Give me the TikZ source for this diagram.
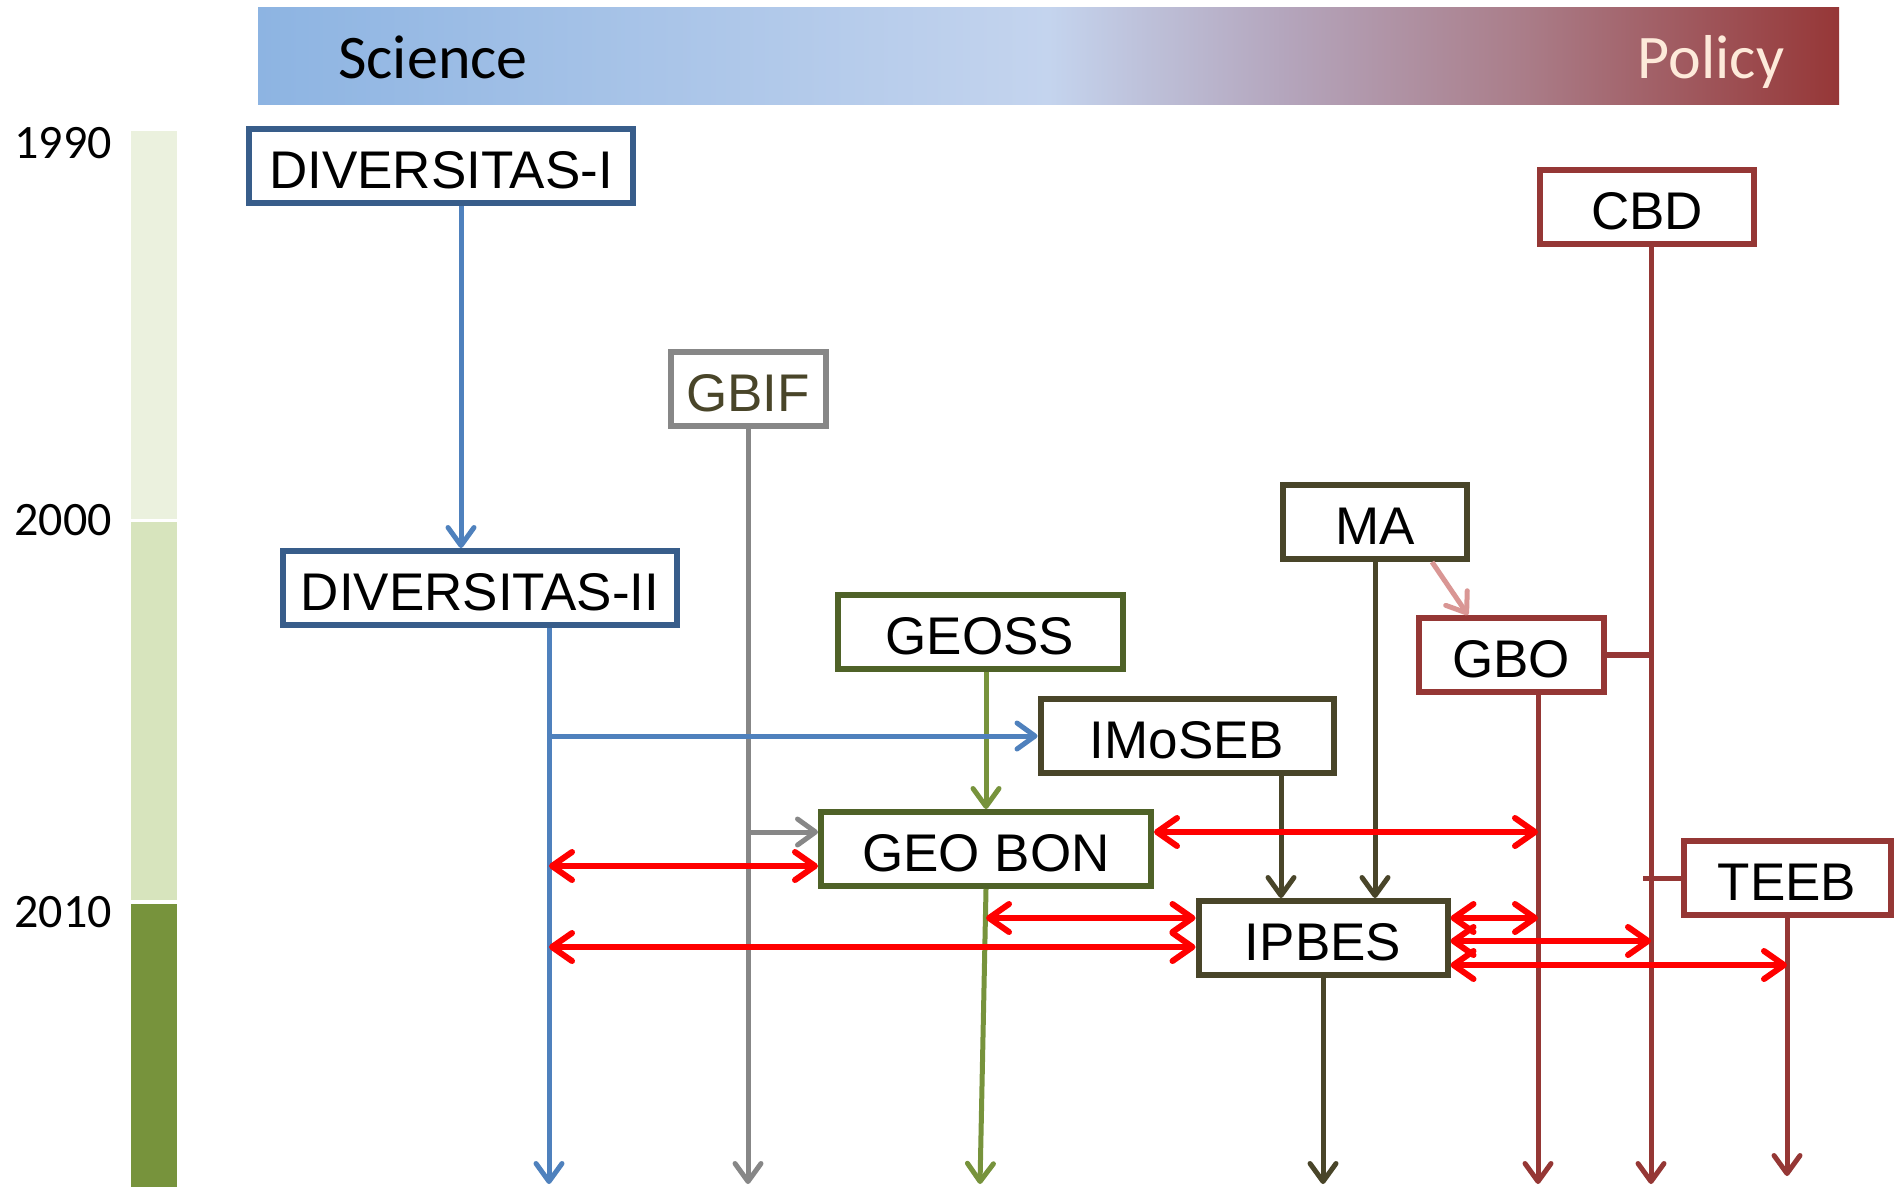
\documentclass[tikz,border=0pt]{standalone}
\usepackage{fontspec}
\newfontfamily\boxfont{Liberation Sans}
\newfontfamily\calfont{Carlito}
\usetikzlibrary{arrows.meta}

\definecolor{sciblue}{RGB}{141,180,226}
\definecolor{midlav}{RGB}{196,212,238}
\definecolor{mauvea}{RGB}{180,165,188}
\definecolor{mauveb}{RGB}{170,125,137}
\definecolor{polred}{RGB}{150,55,55}
\definecolor{polcream}{RGB}{253,234,218}
\definecolor{divblue}{RGB}{56,93,138}
\definecolor{lineblue}{RGB}{79,129,189}
\definecolor{gbifgray}{RGB}{135,135,135}
\definecolor{olivedark}{RGB}{73,69,41}
\definecolor{geogreen}{RGB}{79,98,40}
\definecolor{linegreen}{RGB}{119,147,60}
\definecolor{cbdred}{RGB}{149,55,53}
\definecolor{gbopink}{RGB}{217,150,148}
\definecolor{barlight}{RGB}{235,241,222}
\definecolor{barmid}{RGB}{215,228,189}

\pgfdeclarehorizontalshading{scipol}{100bp}{color(0bp)=(sciblue); color(25bp)=(sciblue);
  color(50bp)=(midlav); color(57.5bp)=(mauvea); color(65bp)=(mauveb);
  color(75bp)=(polred); color(100bp)=(polred)}

\begin{document}
\begin{tikzpicture}[x=1pt,y=-1pt,>={Straight Barb[length=18pt,width=26pt,round]},
 box/.style={draw,fill=white,line width=6pt,minimum height=74pt,inner sep=0pt,
   text height=45pt,text depth=0pt,font=\boxfont\fontsize{53}{60}\selectfont},
 link/.style={->,line width=5pt},
 rel/.style={>={Straight Barb[length=20pt,width=28pt,round]},<->,red,line width=6pt},
 yearlab/.style={font=\calfont\fontsize{48}{56}\selectfont,anchor=base}]
 \useasboundingbox (0,0) rectangle (1902,1187);

 % science / policy band
 \shade[shading=scipol] (258,7) rectangle (1839,104);
 \node[font=\calfont\fontsize{62}{70}\selectfont,anchor=base] (sci) at (433,78) {Science};
 \node[font=\calfont\fontsize{62}{70}\selectfont,anchor=base,text=polcream] (pol) at (1711,78) {Policy};

 % time bar
 \fill[barlight] (131,131) rectangle (177,519);
 \fill[barmid] (131,522) rectangle (177,900);
 \fill[linegreen] (131,904) rectangle (177,1187);
 \node[yearlab] (y1990) at (63,158) {1990};
 \node[yearlab] (y2000) at (63,535) {2000};
 \node[yearlab] (y2010) at (63,927) {2010};

 % boxes
 \node[box,draw=divblue,minimum width=384pt] (div1) at (441,166) {DIVERSITAS-I};
 \node[box,draw=divblue,minimum width=394pt] (div2) at (480,588) {DIVERSITAS-II};
 \node[box,draw=gbifgray,text=olivedark,minimum width=155pt] (gbif) at (748,389) {GBIF};
 \node[box,draw=cbdred,minimum width=214pt] (cbd) at (1647,207) {CBD};
 \node[box,draw=olivedark,minimum width=184pt] (ma) at (1375,522) {MA};
 \node[box,draw=geogreen,minimum width=285pt] (geoss) at (980,632) {GEOSS};
 \node[box,draw=cbdred,minimum width=185pt] (gbo) at (1511,655) {GBO};
 \node[box,draw=olivedark,minimum width=293pt] (imoseb) at (1187,736) {IMoSEB};
 \node[box,draw=geogreen,minimum width=330pt] (geobon) at (986,849) {GEO BON};
 \node[box,draw=cbdred,minimum width=207pt] (teeb) at (1787,878) {TEEB};
 \node[box,draw=olivedark,minimum width=249pt] (ipbes) at (1323,938) {IPBES};

 \coordinate (bot) at (0,1184);
 \coordinate (d1) at ([xshift=20pt]div1.south);
 \coordinate (d2) at ([xshift=69pt]div2.south);
 \coordinate (gs) at ([xshift=6pt]geoss.south);
 \coordinate (im) at ([xshift=94pt]imoseb.south);
 \coordinate (gl) at ([xshift=27pt]gbo.south);
 \coordinate (cl) at ([xshift=4pt]cbd.south);
 \coordinate (gb) at ([yshift=17pt]geobon.west);
 \coordinate (greenend) at (980,1184);
 \coordinate (teebend) at (1787,1176);

 % lines
 \draw[link,gbifgray] (gbif.south) -- (gbif.south |- bot);
 \draw[link,gbifgray] (gb -| gbif.south) -- (gb);
 \draw[link,linegreen] (gs) -- (gs |- geobon.north);
 \draw[link,linegreen] (geobon.south) -- (greenend);
 \draw[link,lineblue] (d1) -- (d1 |- div2.north);
 \draw[link,lineblue] (d2) -- (d2 |- bot);
 \draw[link,lineblue] (d2 |- imoseb.west) -- (imoseb.west);
 \draw[link,olivedark] (im) -- (im |- ipbes.north);
 \draw[link,olivedark] (ma.south) -- (ma.south |- ipbes.north);
 \draw[link,olivedark] (ipbes.south) -- (ipbes.south |- bot);
 \draw[link,cbdred] (gl) -- (gl |- bot);
 \draw[link,cbdred] (cl) -- (cl |- bot);
 \draw[link,cbdred] (teeb.south) -- (teebend);
 \draw[cbdred,line width=6pt] (gbo.east) -- (gbo.east -| cl);
 \draw[cbdred,line width=5pt] (teeb.west) -- ++(-38,0);
 \draw[link,gbopink] ([xshift=57pt]ma.south) -- ([xshift=-43pt]gbo.north);

 % exchanges
 \coordinate (r1) at ([yshift=17pt]geobon.east);
 \coordinate (r2) at ([yshift=-17pt]geobon.west);
 \coordinate (r3) at ([yshift=20pt]ipbes.west);
 \coordinate (r4) at ([yshift=-9pt]ipbes.west);
 \coordinate (r5) at ([yshift=20pt]ipbes.east);
 \coordinate (r6) at ([yshift=-3pt]ipbes.east);
 \coordinate (r7) at ([yshift=-27pt]ipbes.east);
 \draw[rel] (r1) -- (r1 -| gl);
 \draw[rel] (r2 -| d2) -- (r2);
 \draw[rel] (r3 -| geobon.south) -- (r3);
 \draw[rel] (r4 -| d2) -- (r4);
 \draw[rel] (r5) -- (r5 -| gl);
 \draw[rel] (r6) -- (r6 -| cl);
 \draw[rel] (r7) -- (r7 -| teeb.south);
\end{tikzpicture}
\end{document}
